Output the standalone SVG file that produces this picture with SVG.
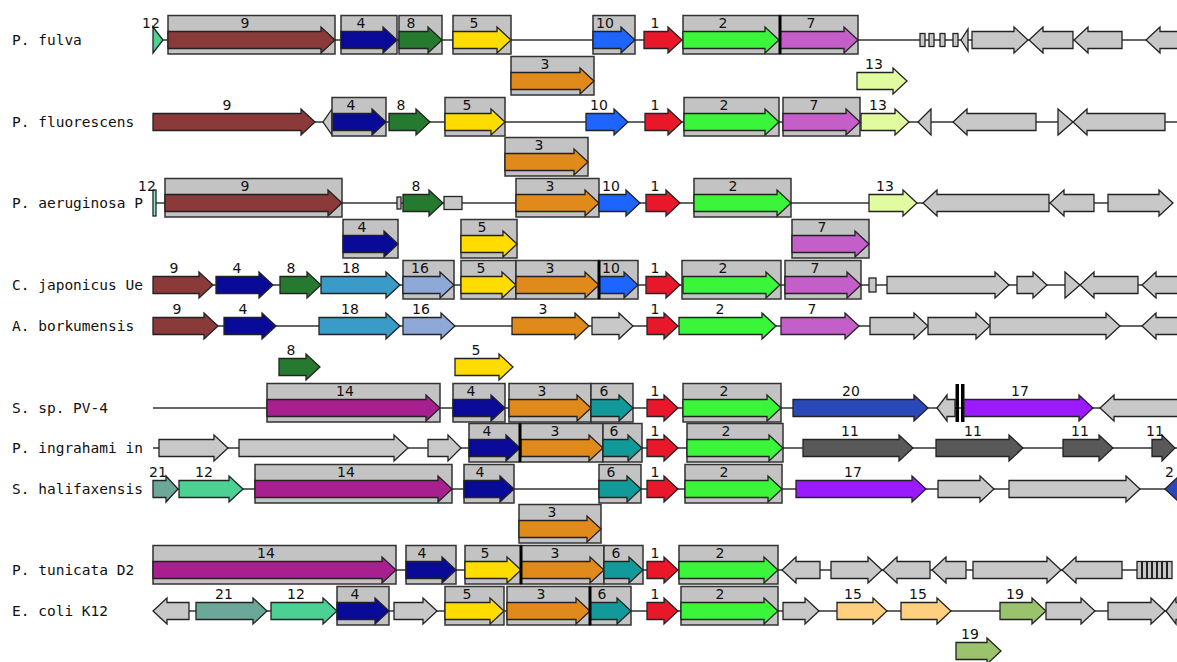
<svg xmlns="http://www.w3.org/2000/svg" width="1177" height="662" viewBox="0 0 1177 662">
<style>
.bk{stroke:#333;stroke-width:1.5}
.bx{fill:#c3c3c3;stroke:#333;stroke-width:1.5}
path,.sm{stroke:#222;stroke-width:1.3}
.sep{stroke:#000;stroke-width:3}
.bar{fill:#000}
.c1{fill:#e8182a}.c2{fill:#3af53a}.c3{fill:#e08a1c}.c4{fill:#0a0a99}.c5{fill:#ffdc00}.c6{fill:#129a9a}.c7{fill:#c45ec8}.c8{fill:#257a30}.c9{fill:#8b3a3a}.c10{fill:#1e64ff}.c11{fill:#595959}.c12{fill:#4dd093}.c13{fill:#e0fba0}.c14{fill:#a8208f}.c15{fill:#fdd07f}.c16{fill:#8ea8d8}.c17{fill:#9b1aff}.c18{fill:#3a9bc8}.c19{fill:#9bc36d}.c20{fill:#2a48b8}.c21{fill:#6ca89a}.gr{fill:#c8c8c8}
text{font-family:"DejaVu Sans","Liberation Sans",sans-serif;font-size:14px;fill:#111;text-anchor:middle}
text.rl{font-family:"DejaVu Sans Mono","Liberation Mono",monospace;font-size:14.5px;text-anchor:start}
</style>
<rect width="1177" height="662" fill="#fff"/>
<g id="connectors">
<line class="bk" x1="153" y1="40" x2="1177" y2="40"/>
<line class="bk" x1="153" y1="122" x2="1177" y2="122"/>
<line class="bk" x1="153" y1="203" x2="1173" y2="203"/>
<line class="bk" x1="153" y1="285" x2="1177" y2="285"/>
<line class="bk" x1="153" y1="326" x2="1177" y2="326"/>
<line class="bk" x1="153" y1="408" x2="1177" y2="408"/>
<line class="bk" x1="153" y1="448" x2="1177" y2="448"/>
<line class="bk" x1="153" y1="489" x2="1177" y2="489"/>
<line class="bk" x1="153" y1="570" x2="1172" y2="570"/>
<line class="bk" x1="153" y1="611" x2="1177" y2="611"/>
</g>

<g id="row-fulva" transform="translate(0,40)">
<text class="rl" x="12" y="5">P. fulva</text>
<g id="fulva-12"><path class="c12" d="M153 -13L163 0L153 13Z"/><text x="151" y="-12">12</text></g>
<g id="fulva-9"><rect class="bx" x="168" y="-24.5" width="167" height="38.5"/><path class="c9" d="M168 -8.5H321V-13L335 0L321 13V8.5H168Z"/><text x="245" y="-12">9</text></g>
<g id="fulva-4"><rect class="bx" x="341" y="-24.5" width="56" height="38.5"/><path class="c4" d="M341 -8.5H383V-13L397 0L383 13V8.5H341Z"/><text x="361" y="-12">4</text></g>
<g id="fulva-8"><rect class="bx" x="399" y="-24.5" width="43" height="38.5"/><path class="c8" d="M399 -8.5H428V-13L442 0L428 13V8.5H399Z"/><text x="411" y="-12">8</text></g>
<g id="fulva-5"><rect class="bx" x="453" y="-24.5" width="58" height="38.5"/><path class="c5" d="M453 -8.5H497V-13L511 0L497 13V8.5H453Z"/><text x="474" y="-12">5</text></g>
<g id="fulva-10"><rect class="bx" x="593" y="-24.5" width="42" height="38.5"/><path class="c10" d="M593 -8.5H621V-13L635 0L621 13V8.5H593Z"/><text x="605" y="-12">10</text></g>
<g id="fulva-1"><path class="c1" d="M644 -8.5H668V-13L682 0L668 13V8.5H644Z"/><text x="655" y="-12">1</text></g>
<g id="fulva-2"><rect class="bx" x="683" y="-24.5" width="97" height="38.5"/><path class="c2" d="M683 -8.5H765V-13L779 0L765 13V8.5H683Z"/><text x="723" y="-12">2</text></g>
<g id="fulva-7"><rect class="bx" x="780" y="-24.5" width="78" height="38.5"/><path class="c7" d="M780 -8.5H844V-13L858 0L844 13V8.5H780Z"/><text x="811" y="-12">7</text><line class="sep" x1="780" y1="-24.5" x2="780" y2="14"/></g>
<g id="fulva-small"><rect class="gr sm" x="920" y="-6.5" width="5" height="13"/><rect class="gr sm" x="929" y="-6.5" width="5" height="13"/><rect class="gr sm" x="940" y="-6.5" width="5" height="13"/><rect class="gr sm" x="953" y="-6.5" width="5" height="13"/><path class="gr" d="M968 -11L961 0L968 11Z"/></g>
<g id="fulva-o1"><path class="gr" d="M972 -8.5H1014V-13L1028 0L1014 13V8.5H972Z"/></g>
<g id="fulva-o2"><path class="gr" d="M1073 -8.5H1043V-13L1029 0L1043 13V8.5H1073Z"/></g>
<g id="fulva-o3"><path class="gr" d="M1122 -8.5H1088V-13L1074 0L1088 13V8.5H1122Z"/></g>
<g id="fulva-o4"><path class="gr" d="M1182 -8.5H1160V-13L1146 0L1160 13V8.5H1182Z"/></g>
</g>
<g id="row-fulva-sub" transform="translate(0,81)">
<g id="fulva-3"><rect class="bx" x="511" y="-24.5" width="83" height="38.5"/><path class="c3" d="M511 -8.5H580V-13L594 0L580 13V8.5H511Z"/><text x="545" y="-12">3</text></g>
<g id="fulva-13"><path class="c13" d="M857 -8.5H893V-13L907 0L893 13V8.5H857Z"/><text x="874" y="-12">13</text></g>
</g>

<g id="row-fluorescens" transform="translate(0,122)">
<text class="rl" x="12" y="5">P. fluorescens</text>
<g id="fluo-9"><path class="c9" d="M153 -8.5H301V-13L315 0L301 13V8.5H153Z"/><text x="227" y="-12">9</text></g>
<g id="fluo-o1"><path class="gr" d="M332 -13L323 0L332 13Z"/></g>
<g id="fluo-4"><rect class="bx" x="332" y="-24.5" width="54" height="38.5"/><path class="c4" d="M333 -8.5H372V-13L386 0L372 13V8.5H333Z"/><text x="351" y="-12">4</text></g>
<g id="fluo-8"><path class="c8" d="M389 -8.5H416V-13L430 0L416 13V8.5H389Z"/><text x="401" y="-12">8</text></g>
<g id="fluo-5"><rect class="bx" x="445" y="-24.5" width="60" height="38.5"/><path class="c5" d="M445 -8.5H491V-13L505 0L491 13V8.5H445Z"/><text x="467" y="-12">5</text></g>
<g id="fluo-10"><path class="c10" d="M586 -8.5H614V-13L628 0L614 13V8.5H586Z"/><text x="599" y="-12">10</text></g>
<g id="fluo-1"><path class="c1" d="M645 -8.5H668V-13L682 0L668 13V8.5H645Z"/><text x="655" y="-12">1</text></g>
<g id="fluo-2"><rect class="bx" x="684" y="-24.5" width="95" height="38.5"/><path class="c2" d="M684 -8.5H765V-13L779 0L765 13V8.5H684Z"/><text x="724" y="-12">2</text></g>
<g id="fluo-7"><rect class="bx" x="783" y="-24.5" width="77" height="38.5"/><path class="c7" d="M783 -8.5H846V-13L860 0L846 13V8.5H783Z"/><text x="814" y="-12">7</text></g>
<g id="fluo-13"><path class="c13" d="M861 -8.5H895V-13L909 0L895 13V8.5H861Z"/><text x="878" y="-12">13</text></g>
<g id="fluo-o2"><path class="gr" d="M931 -13L918 0L931 13Z"/></g>
<g id="fluo-o3"><path class="gr" d="M1036 -8.5H967V-13L953 0L967 13V8.5H1036Z"/></g>
<g id="fluo-o4"><path class="gr" d="M1058 -13L1073 0L1058 13Z"/></g>
<g id="fluo-o5"><path class="gr" d="M1165 -8.5H1087V-13L1073 0L1087 13V8.5H1165Z"/></g>
</g>
<g id="row-fluorescens-sub" transform="translate(0,162)">
<g id="fluo-3"><rect class="bx" x="505" y="-24.5" width="83" height="38.5"/><path class="c3" d="M505 -8.5H574V-13L588 0L574 13V8.5H505Z"/><text x="539" y="-12">3</text></g>
</g>

<g id="row-aeruginosa" transform="translate(0,203)">
<text class="rl" x="12" y="5">P. aeruginosa P</text>
<g id="aer-12"><rect class="c12 sm" x="153" y="-13" width="3" height="26" style="fill:#8fe8d0"/><text x="147" y="-12">12</text></g>
<g id="aer-9"><rect class="bx" x="165" y="-24.5" width="177" height="38.5"/><path class="c9" d="M165 -8.5H328V-13L342 0L328 13V8.5H165Z"/><text x="245" y="-12">9</text></g>
<g id="aer-o1"><rect class="gr sm" x="397" y="-6" width="4" height="12"/></g>
<g id="aer-8"><path class="c8" d="M403 -8.5H429V-13L443 0L429 13V8.5H403Z"/><text x="416" y="-12">8</text></g>
<g id="aer-o2"><rect class="gr sm" x="444" y="-6.5" width="18" height="13"/></g>
<g id="aer-3"><rect class="bx" x="516" y="-24.5" width="83" height="38.5"/><path class="c3" d="M516 -8.5H585V-13L599 0L585 13V8.5H516Z"/><text x="550" y="-12">3</text></g>
<g id="aer-10"><path class="c10" d="M599 -8.5H626V-13L640 0L626 13V8.5H599Z"/><text x="611" y="-12">10</text></g>
<g id="aer-1"><path class="c1" d="M646 -8.5H666V-13L680 0L666 13V8.5H646Z"/><text x="655" y="-12">1</text></g>
<g id="aer-2"><rect class="bx" x="694" y="-24.5" width="97" height="38.5"/><path class="c2" d="M694 -8.5H777V-13L791 0L777 13V8.5H694Z"/><text x="733" y="-12">2</text></g>
<g id="aer-13"><path class="c13" d="M869 -8.5H903V-13L917 0L903 13V8.5H869Z"/><text x="885" y="-12">13</text></g>
<g id="aer-o3"><path class="gr" d="M1049 -8.5H937V-13L923 0L937 13V8.5H1049Z"/></g>
<g id="aer-o4"><path class="gr" d="M1094 -8.5H1064V-13L1050 0L1064 13V8.5H1094Z"/></g>
<g id="aer-o5"><path class="gr" d="M1108 -8.5H1159V-13L1173 0L1159 13V8.5H1108Z"/></g>
</g>
<g id="row-aeruginosa-sub" transform="translate(0,244)">
<g id="aer-4"><rect class="bx" x="343" y="-24.5" width="55" height="38.5"/><path class="c4" d="M343 -8.5H384V-13L398 0L384 13V8.5H343Z"/><text x="362" y="-12">4</text></g>
<g id="aer-5"><rect class="bx" x="461" y="-24.5" width="56" height="38.5"/><path class="c5" d="M461 -8.5H503V-13L517 0L503 13V8.5H461Z"/><text x="482" y="-12">5</text></g>
<g id="aer-7"><rect class="bx" x="792" y="-24.5" width="77" height="38.5"/><path class="c7" d="M792 -8.5H855V-13L869 0L855 13V8.5H792Z"/><text x="822" y="-12">7</text></g>
</g>

<g id="row-japonicus" transform="translate(0,285)">
<text class="rl" x="12" y="5">C. japonicus Ue</text>
<g id="jap-9"><path class="c9" d="M153 -8.5H199V-13L213 0L199 13V8.5H153Z"/><text x="174" y="-12">9</text></g>
<g id="jap-4"><path class="c4" d="M216 -8.5H259V-13L273 0L259 13V8.5H216Z"/><text x="237" y="-12">4</text></g>
<g id="jap-8"><path class="c8" d="M280 -8.5H307V-13L321 0L307 13V8.5H280Z"/><text x="291" y="-12">8</text></g>
<g id="jap-18"><path class="c18" d="M321 -8.5H386V-13L400 0L386 13V8.5H321Z"/><text x="351" y="-12">18</text></g>
<g id="jap-16"><rect class="bx" x="403" y="-24.5" width="51" height="38.5"/><path class="c16" d="M403 -8.5H440V-13L454 0L440 13V8.5H403Z"/><text x="420" y="-12">16</text></g>
<g id="jap-5"><rect class="bx" x="461" y="-24.5" width="55" height="38.5"/><path class="c5" d="M461 -8.5H502V-13L516 0L502 13V8.5H461Z"/><text x="481" y="-12">5</text></g>
<g id="jap-3"><rect class="bx" x="516" y="-24.5" width="83" height="38.5"/><path class="c3" d="M516 -8.5H585V-13L599 0L585 13V8.5H516Z"/><text x="550" y="-12">3</text></g>
<g id="jap-10"><rect class="bx" x="599" y="-24.5" width="39" height="38.5"/><path class="c10" d="M599 -8.5H624V-13L638 0L624 13V8.5H599Z"/><text x="611" y="-12">10</text><line class="sep" x1="599" y1="-24.5" x2="599" y2="14"/></g>
<g id="jap-1"><path class="c1" d="M646 -8.5H666V-13L680 0L666 13V8.5H646Z"/><text x="655" y="-12">1</text></g>
<g id="jap-2"><rect class="bx" x="682" y="-24.5" width="99" height="38.5"/><path class="c2" d="M683 -8.5H766V-13L780 0L766 13V8.5H683Z"/><text x="723" y="-12">2</text></g>
<g id="jap-7"><rect class="bx" x="785" y="-24.5" width="76" height="38.5"/><path class="c7" d="M785 -8.5H847V-13L861 0L847 13V8.5H785Z"/><text x="815" y="-12">7</text></g>
<g id="jap-o1"><rect class="gr sm" x="869" y="-7" width="7" height="14"/></g>
<g id="jap-o2"><path class="gr" d="M887 -8.5H995V-13L1009 0L995 13V8.5H887Z"/></g>
<g id="jap-o3"><path class="gr" d="M1017 -8.5H1033V-13L1047 0L1033 13V8.5H1017Z"/></g>
<g id="jap-o4"><path class="gr" d="M1065 -13L1080 0L1065 13Z"/></g>
<g id="jap-o5"><path class="gr" d="M1138 -8.5H1094V-13L1080 0L1094 13V8.5H1138Z"/></g>
<g id="jap-o6"><path class="gr" d="M1182 -8.5H1156V-13L1142 0L1156 13V8.5H1182Z"/></g>
</g>

<g id="row-borkumensis" transform="translate(0,326)">
<text class="rl" x="12" y="5">A. borkumensis</text>
<g id="bor-9"><path class="c9" d="M153 -8.5H204V-13L218 0L204 13V8.5H153Z"/><text x="177" y="-12">9</text></g>
<g id="bor-4"><path class="c4" d="M224 -8.5H262V-13L276 0L262 13V8.5H224Z"/><text x="243" y="-12">4</text></g>
<g id="bor-18"><path class="c18" d="M319 -8.5H386V-13L400 0L386 13V8.5H319Z"/><text x="350" y="-12">18</text></g>
<g id="bor-16"><path class="c16" d="M403 -8.5H441V-13L455 0L441 13V8.5H403Z"/><text x="421" y="-12">16</text></g>
<g id="bor-3"><path class="c3" d="M512 -8.5H575V-13L589 0L575 13V8.5H512Z"/><text x="543" y="-12">3</text></g>
<g id="bor-o1"><path class="gr" d="M592 -8.5H619V-13L633 0L619 13V8.5H592Z"/></g>
<g id="bor-1"><path class="c1" d="M647 -8.5H664V-13L678 0L664 13V8.5H647Z"/><text x="655" y="-12">1</text></g>
<g id="bor-2"><path class="c2" d="M679 -8.5H762V-13L776 0L762 13V8.5H679Z"/><text x="720" y="-12">2</text></g>
<g id="bor-7"><path class="c7" d="M781 -8.5H845V-13L859 0L845 13V8.5H781Z"/><text x="812" y="-12">7</text></g>
<g id="bor-o2"><path class="gr" d="M870 -8.5H914V-13L928 0L914 13V8.5H870Z"/></g>
<g id="bor-o3"><path class="gr" d="M928 -8.5H976V-13L990 0L976 13V8.5H928Z"/></g>
<g id="bor-o4"><path class="gr" d="M990 -8.5H1106V-13L1120 0L1106 13V8.5H990Z"/></g>
<g id="bor-o5"><path class="gr" d="M1182 -8.5H1156V-13L1142 0L1156 13V8.5H1182Z"/></g>
</g>
<g id="row-borkumensis-sub" transform="translate(0,367)">
<g id="bor-8"><path class="c8" d="M279 -8.5H306V-13L320 0L306 13V8.5H279Z"/><text x="291" y="-12">8</text></g>
<g id="bor-5"><path class="c5" d="M455 -8.5H499V-13L513 0L499 13V8.5H455Z"/><text x="476" y="-12">5</text></g>
</g>

<g id="row-pv4" transform="translate(0,408)">
<text class="rl" x="12" y="5">S. sp. PV-4</text>
<g id="pv-14"><rect class="bx" x="267" y="-24.5" width="173" height="38.5"/><path class="c14" d="M267 -8.5H426V-13L440 0L426 13V8.5H267Z"/><text x="345" y="-12">14</text></g>
<g id="pv-4"><rect class="bx" x="453" y="-24.5" width="52" height="38.5"/><path class="c4" d="M453 -8.5H491V-13L505 0L491 13V8.5H453Z"/><text x="471" y="-12">4</text></g>
<g id="pv-3"><rect class="bx" x="509" y="-24.5" width="82" height="38.5"/><path class="c3" d="M509 -8.5H577V-13L591 0L577 13V8.5H509Z"/><text x="542" y="-12">3</text></g>
<g id="pv-6"><rect class="bx" x="591" y="-24.5" width="42" height="38.5"/><path class="c6" d="M591 -8.5H619V-13L633 0L619 13V8.5H591Z"/><text x="604" y="-12">6</text></g>
<g id="pv-1"><path class="c1" d="M647 -8.5H664V-13L678 0L664 13V8.5H647Z"/><text x="655" y="-12">1</text></g>
<g id="pv-2"><rect class="bx" x="683" y="-24.5" width="98" height="38.5"/><path class="c2" d="M683 -8.5H767V-13L781 0L767 13V8.5H683Z"/><text x="724" y="-12">2</text></g>
<g id="pv-20"><path class="c20" d="M793 -8.5H914V-13L928 0L914 13V8.5H793Z"/><text x="851" y="-12">20</text></g>
<g id="pv-o1"><path class="gr" d="M955 -8.5H947V-13L937 0L947 13V8.5H955Z"/></g>
<g id="pv-break"><rect class="bar" x="955.5" y="-24" width="3.5" height="38"/><rect class="bar" x="961" y="-24" width="3.5" height="38"/></g>
<g id="pv-17"><path class="c17" d="M964 -8.5H1079V-13L1093 0L1079 13V8.5H964Z"/><text x="1020" y="-12">17</text></g>
<g id="pv-o2"><path class="gr" d="M1182 -8.5H1114V-13L1100 0L1114 13V8.5H1182Z"/></g>
</g>

<g id="row-ingrahami" transform="translate(0,448)">
<text class="rl" x="12" y="5">P. ingrahami in</text>
<g id="ing-o1"><path class="gr" d="M159 -8.5H214V-13L228 0L214 13V8.5H159Z"/></g>
<g id="ing-o2"><path class="gr" d="M239 -8.5H394V-13L408 0L394 13V8.5H239Z"/></g>
<g id="ing-o3"><path class="gr" d="M428 -8.5H448V-13L461 0L448 13V8.5H428Z"/></g>
<g id="ing-4"><rect class="bx" x="469" y="-24.5" width="51" height="38.5"/><path class="c4" d="M469 -8.5H506V-13L520 0L506 13V8.5H469Z"/><text x="487" y="-12">4</text></g>
<g id="ing-3"><rect class="bx" x="520" y="-24.5" width="83" height="38.5"/><path class="c3" d="M521 -8.5H589V-13L603 0L589 13V8.5H521Z"/><text x="555" y="-12">3</text><line class="sep" x1="520" y1="-24.5" x2="520" y2="14"/></g>
<g id="ing-6"><rect class="bx" x="603" y="-24.5" width="39" height="38.5"/><path class="c6" d="M603 -8.5H628V-13L642 0L628 13V8.5H603Z"/><text x="614" y="-12">6</text></g>
<g id="ing-1"><path class="c1" d="M647 -8.5H664V-13L678 0L664 13V8.5H647Z"/><text x="655" y="-12">1</text></g>
<g id="ing-2"><rect class="bx" x="687" y="-24.5" width="96" height="38.5"/><path class="c2" d="M687 -8.5H769V-13L783 0L769 13V8.5H687Z"/><text x="726" y="-12">2</text></g>
<g id="ing-11a"><path class="c11" d="M803 -8.5H899V-13L913 0L899 13V8.5H803Z"/><text x="850" y="-12">11</text></g>
<g id="ing-11b"><path class="c11" d="M936 -8.5H1009V-13L1023 0L1009 13V8.5H936Z"/><text x="973" y="-12">11</text></g>
<g id="ing-11c"><path class="c11" d="M1063 -8.5H1099V-13L1113 0L1099 13V8.5H1063Z"/><text x="1080" y="-12">11</text></g>
<g id="ing-11d"><path class="c11" d="M1152 -8.5H1162V-13L1175 0L1162 13V8.5H1152Z"/><text x="1155" y="-12">11</text></g>
</g>

<g id="row-halifaxensis" transform="translate(0,489)">
<text class="rl" x="12" y="5">S. halifaxensis</text>
<g id="hal-21"><path class="c21" d="M153 -8.5H166V-13L178 0L166 13V8.5H153Z"/><text x="158" y="-12">21</text></g>
<g id="hal-12"><path class="c12" d="M179 -8.5H229V-13L243 0L229 13V8.5H179Z"/><text x="204" y="-12">12</text></g>
<g id="hal-14"><rect class="bx" x="255" y="-24.5" width="197" height="38.5"/><path class="c14" d="M255 -8.5H438V-13L452 0L438 13V8.5H255Z"/><text x="346" y="-12">14</text></g>
<g id="hal-4"><rect class="bx" x="464" y="-24.5" width="50" height="38.5"/><path class="c4" d="M464 -8.5H500V-13L514 0L500 13V8.5H464Z"/><text x="480" y="-12">4</text></g>
<g id="hal-6"><rect class="bx" x="599" y="-24.5" width="42" height="38.5"/><path class="c6" d="M599 -8.5H627V-13L641 0L627 13V8.5H599Z"/><text x="611" y="-12">6</text></g>
<g id="hal-1"><path class="c1" d="M647 -8.5H664V-13L678 0L664 13V8.5H647Z"/><text x="655" y="-12">1</text></g>
<g id="hal-2"><rect class="bx" x="685" y="-24.5" width="97" height="38.5"/><path class="c2" d="M685 -8.5H768V-13L782 0L768 13V8.5H685Z"/><text x="724" y="-12">2</text></g>
<g id="hal-17"><path class="c17" d="M796 -8.5H912V-13L926 0L912 13V8.5H796Z"/><text x="853" y="-12">17</text></g>
<g id="hal-o1"><path class="gr" d="M938 -8.5H980V-13L994 0L980 13V8.5H938Z"/></g>
<g id="hal-o2"><path class="gr" d="M1009 -8.5H1126V-13L1140 0L1126 13V8.5H1009Z"/></g>
<g id="hal-20"><path class="c20" d="M1195 -8.5H1179V-13L1165 0L1179 13V8.5H1195Z"/><text x="1165" y="-12" style="text-anchor:start">2</text></g>
</g>
<g id="row-halifaxensis-sub" transform="translate(0,529)">
<g id="hal-3"><rect class="bx" x="519" y="-24.5" width="82" height="38.5"/><path class="c3" d="M519 -8.5H587V-13L601 0L587 13V8.5H519Z"/><text x="552" y="-12">3</text></g>
</g>

<g id="row-tunicata" transform="translate(0,570)">
<text class="rl" x="12" y="5">P. tunicata D2</text>
<g id="tun-14"><rect class="bx" x="153" y="-24.5" width="243" height="38.5"/><path class="c14" d="M153 -8.5H382V-13L396 0L382 13V8.5H153Z"/><text x="266" y="-12">14</text></g>
<g id="tun-4"><rect class="bx" x="406" y="-24.5" width="50" height="38.5"/><path class="c4" d="M406 -8.5H442V-13L456 0L442 13V8.5H406Z"/><text x="422" y="-12">4</text></g>
<g id="tun-5"><rect class="bx" x="465" y="-24.5" width="56" height="38.5"/><path class="c5" d="M465 -8.5H507V-13L521 0L507 13V8.5H465Z"/><text x="485" y="-12">5</text></g>
<g id="tun-3"><rect class="bx" x="521" y="-24.5" width="83" height="38.5"/><path class="c3" d="M521 -8.5H590V-13L604 0L590 13V8.5H521Z"/><text x="555" y="-12">3</text><line class="sep" x1="521" y1="-24.5" x2="521" y2="14"/></g>
<g id="tun-6"><rect class="bx" x="604" y="-24.5" width="39" height="38.5"/><path class="c6" d="M604 -8.5H629V-13L643 0L629 13V8.5H604Z"/><text x="616" y="-12">6</text></g>
<g id="tun-1"><path class="c1" d="M647 -8.5H664V-13L678 0L664 13V8.5H647Z"/><text x="655" y="-12">1</text></g>
<g id="tun-2"><rect class="bx" x="679" y="-24.5" width="99" height="38.5"/><path class="c2" d="M679 -8.5H764V-13L778 0L764 13V8.5H679Z"/><text x="720" y="-12">2</text></g>
<g id="tun-o1"><path class="gr" d="M820 -8.5H796V-13L782 0L796 13V8.5H820Z"/></g>
<g id="tun-o2"><path class="gr" d="M831 -8.5H868V-13L882 0L868 13V8.5H831Z"/></g>
<g id="tun-o3"><path class="gr" d="M930 -8.5H897V-13L883 0L897 13V8.5H930Z"/></g>
<g id="tun-o4"><path class="gr" d="M966 -8.5H946V-13L932 0L946 13V8.5H966Z"/></g>
<g id="tun-o5"><path class="gr" d="M973 -8.5H1047V-13L1061 0L1047 13V8.5H973Z"/></g>
<g id="tun-o6"><path class="gr" d="M1122 -8.5H1076V-13L1062 0L1076 13V8.5H1122Z"/></g>
<g id="tun-o7"><rect class="gr sm" x="1137" y="-8.5" width="35" height="17"/><g class="sm" style="stroke-width:2"><line x1="1142" y1="-8.5" x2="1142" y2="8.5"/><line x1="1147" y1="-8.5" x2="1147" y2="8.5"/><line x1="1152" y1="-8.5" x2="1152" y2="8.5"/><line x1="1157" y1="-8.5" x2="1157" y2="8.5"/><line x1="1162" y1="-8.5" x2="1162" y2="8.5"/><line x1="1167" y1="-8.5" x2="1167" y2="8.5"/></g></g>
</g>

<g id="row-ecoli" transform="translate(0,611)">
<text class="rl" x="12" y="5">E. coli K12</text>
<g id="eco-o1"><path class="gr" d="M189 -8.5H167V-13L153 0L167 13V8.5H189Z"/></g>
<g id="eco-21"><path class="c21" d="M196 -8.5H253V-13L267 0L253 13V8.5H196Z"/><text x="224" y="-12">21</text></g>
<g id="eco-12"><path class="c12" d="M271 -8.5H323V-13L337 0L323 13V8.5H271Z"/><text x="296" y="-12">12</text></g>
<g id="eco-4"><rect class="bx" x="337" y="-24.5" width="52" height="38.5"/><path class="c4" d="M337 -8.5H375V-13L389 0L375 13V8.5H337Z"/><text x="355" y="-12">4</text></g>
<g id="eco-o2"><path class="gr" d="M394 -8.5H423V-13L437 0L423 13V8.5H394Z"/></g>
<g id="eco-5"><rect class="bx" x="445" y="-24.5" width="59" height="38.5"/><path class="c5" d="M445 -8.5H490V-13L504 0L490 13V8.5H445Z"/><text x="467" y="-12">5</text></g>
<g id="eco-3"><rect class="bx" x="507" y="-24.5" width="83" height="38.5"/><path class="c3" d="M507 -8.5H576V-13L590 0L576 13V8.5H507Z"/><text x="541" y="-12">3</text></g>
<g id="eco-6"><rect class="bx" x="590" y="-24.5" width="41" height="38.5"/><path class="c6" d="M590 -8.5H617V-13L631 0L617 13V8.5H590Z"/><text x="602" y="-12">6</text><line class="sep" x1="590" y1="-24.5" x2="590" y2="14"/></g>
<g id="eco-1"><path class="c1" d="M647 -8.5H664V-13L678 0L664 13V8.5H647Z"/><text x="655" y="-12">1</text></g>
<g id="eco-2"><rect class="bx" x="681" y="-24.5" width="97" height="38.5"/><path class="c2" d="M681 -8.5H764V-13L778 0L764 13V8.5H681Z"/><text x="720" y="-12">2</text></g>
<g id="eco-o3"><path class="gr" d="M783 -8.5H805V-13L819 0L805 13V8.5H783Z"/></g>
<g id="eco-15a"><path class="c15" d="M837 -8.5H873V-13L887 0L873 13V8.5H837Z"/><text x="853" y="-12">15</text></g>
<g id="eco-15b"><path class="c15" d="M901 -8.5H937V-13L951 0L937 13V8.5H901Z"/><text x="918" y="-12">15</text></g>
<g id="eco-19"><path class="c19" d="M1000 -8.5H1032V-13L1046 0L1032 13V8.5H1000Z"/><text x="1015" y="-12">19</text></g>
<g id="eco-o4"><path class="gr" d="M1046 -8.5H1081V-13L1095 0L1081 13V8.5H1046Z"/></g>
<g id="eco-o5"><path class="gr" d="M1108 -8.5H1151V-13L1165 0L1151 13V8.5H1108Z"/></g>
<g id="eco-o6"><path class="gr" d="M1182 -8.5H1176V-13L1166 0L1176 13V8.5H1182Z"/></g>
</g>
<g id="row-ecoli-sub" transform="translate(0,651)">
<g id="eco-19b"><path class="c19" d="M956 -8.5H987V-13L1001 0L987 13V8.5H956Z"/><text x="970" y="-12">19</text></g>
</g>
</svg>
